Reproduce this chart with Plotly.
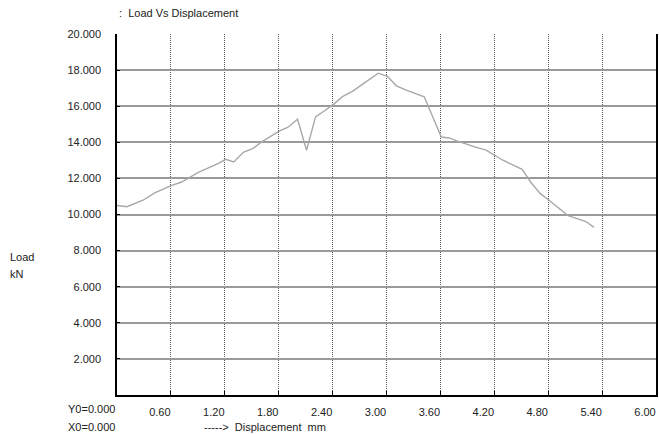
import plotly.graph_objects as go

# Load–displacement test record
displacement_mm = [0.00, 0.11, 0.29, 0.42, 0.61, 0.72, 0.90, 1.03, 1.13, 1.21,
                   1.30, 1.41, 1.51, 1.61, 1.71, 1.81, 1.90, 2.01, 2.11, 2.21,
                   2.29, 2.41, 2.51, 2.63, 2.77, 2.91, 3.01, 3.11, 3.22, 3.33,
                   3.42, 3.61, 3.70, 3.79, 3.89, 4.00, 4.11, 4.21, 4.29, 4.40,
                   4.51, 4.61, 4.71, 4.81, 4.92, 5.02, 5.13, 5.22, 5.31]
load_kn = [10.50, 10.43, 10.79, 11.20, 11.61, 11.80, 12.32, 12.59, 12.83, 13.06,
           12.91, 13.46, 13.65, 14.02, 14.32, 14.63, 14.82, 15.28, 13.56, 15.41,
           15.68, 16.10, 16.53, 16.85, 17.35, 17.83, 17.66, 17.13, 16.89, 16.70,
           16.52, 14.29, 14.24, 14.07, 13.89, 13.72, 13.57, 13.28, 13.02, 12.76,
           12.50, 11.76, 11.17, 10.79, 10.37, 9.94, 9.76, 9.61, 9.29]

x_ticks = [0.6, 1.2, 1.8, 2.4, 3.0, 3.6, 4.2, 4.8, 5.4, 6.0]
x_tick_labels = ["0.60", "1.20", "1.80", "2.40", "3.00", "3.60", "4.20", "4.80", "5.40", "6.00"]
y_ticks = [2, 4, 6, 8, 10, 12, 14, 16, 18, 20]
y_tick_labels = ["2.000", "4.000", "6.000", "8.000", "10.000", "12.000",
                 "14.000", "16.000", "18.000", "20.000"]

FONT = "Liberation Sans, Arial, sans-serif"
TXT = "#222222"

fig = go.Figure()
fig.add_trace(go.Scatter(
    x=displacement_mm, y=load_kn, mode="lines",
    line=dict(color="#a8a8a8", width=1.4),
    hoverinfo="skip", showlegend=False,
))

fig.update_layout(
    width=659, height=434,
    margin=dict(l=117, r=1, t=34, b=39),
    paper_bgcolor="white", plot_bgcolor="white",
    font=dict(family=FONT, size=11, color=TXT),
    showlegend=False,
    xaxis=dict(
        range=[0, 6], tickvals=x_ticks, ticktext=x_tick_labels,
        showgrid=True, gridcolor="#555555", gridwidth=1, griddash="1px,1px",
        showline=True, linecolor="black", linewidth=1.5,
        ticks="inside", ticklen=4, tickcolor="black",
        ticklabelshift=-11, ticklabelstandoff=6,
        zeroline=False, fixedrange=True,
    ),
    yaxis=dict(
        range=[0, 20], tickvals=y_ticks, ticktext=y_tick_labels,
        showgrid=True, gridcolor="#9a9a9a", gridwidth=2,
        showline=True, linecolor="black", linewidth=1.5, mirror=True,
        ticks="inside", ticklen=3, tickcolor="black",
        ticklabelstandoff=12,
        zeroline=False, fixedrange=True,
    ),
)

annotations = [
    dict(text=":  Load Vs Displacement", x=0, y=1, xref="paper", yref="paper",
         xanchor="left", yanchor="middle", xshift=0, yshift=21, showarrow=False),
    dict(text="Y0=0.000", x=0, y=0, xref="paper", yref="paper",
         xanchor="right", yanchor="middle", yshift=-14, showarrow=False),
    dict(text="X0=0.000", x=0, y=0, xref="paper", yref="paper",
         xanchor="right", yanchor="middle", yshift=-32, showarrow=False),
    dict(text="----->  Displacement  mm", x=0, y=0, xref="paper", yref="paper",
         xanchor="left", yanchor="middle", xshift=85, yshift=-32, showarrow=False),
    dict(text="Load", x=0, y=0, xref="paper", yref="paper",
         xanchor="left", yanchor="middle", xshift=-109, yshift=138, showarrow=False),
    dict(text="kN", x=0, y=0, xref="paper", yref="paper",
         xanchor="left", yanchor="middle", xshift=-109, yshift=121, showarrow=False),
]
fig.update_layout(annotations=annotations)

fig.write_html("out.html")
